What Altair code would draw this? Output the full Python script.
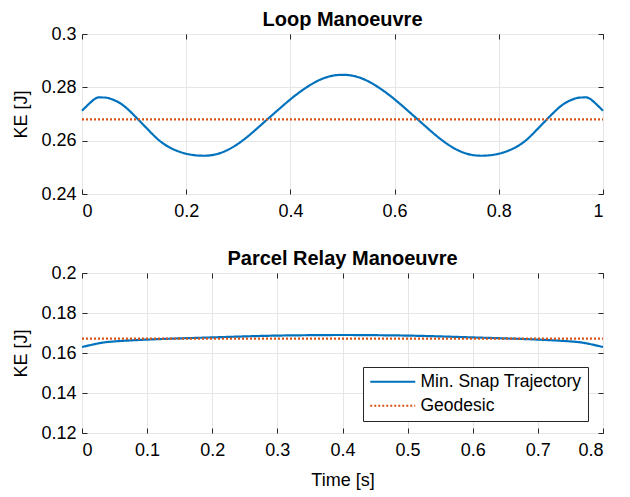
import altair as alt
import pandas as pd

# Loop manoeuvre: kinetic energy along the min-snap trajectory
loop_t = [0.0, 0.025, 0.0375, 0.05, 0.075, 0.1, 0.125, 0.15, 0.175, 0.2, 0.225,
          0.25, 0.275, 0.3, 0.325, 0.35, 0.375, 0.4, 0.425, 0.45, 0.475, 0.5,
          0.525, 0.55, 0.575, 0.6, 0.625, 0.65, 0.675, 0.7, 0.725, 0.75, 0.775,
          0.8, 0.825, 0.85, 0.875, 0.9, 0.925, 0.95, 0.9625, 0.975, 1.0]
loop_ke = [0.2712, 0.2757, 0.2762, 0.2760, 0.2738, 0.2695, 0.2645, 0.2598, 0.2568,
           0.2551, 0.2544, 0.2546, 0.2561, 0.2589, 0.2627, 0.2670, 0.2713, 0.2755,
           0.2792, 0.2822, 0.2841, 0.2847, 0.2841, 0.2822, 0.2792, 0.2755, 0.2713,
           0.2670, 0.2627, 0.2589, 0.2561, 0.2546, 0.2544, 0.2551, 0.2568, 0.2598,
           0.2645, 0.2695, 0.2738, 0.2760, 0.2762, 0.2757, 0.2712]
loop_geodesic = 0.2680

# Parcel relay manoeuvre
relay_t = [0.0, 0.025, 0.05, 0.1, 0.15, 0.2, 0.25, 0.3, 0.35, 0.4, 0.45, 0.5,
           0.55, 0.6, 0.65, 0.7, 0.75, 0.775, 0.8]
relay_ke = [0.1630, 0.1648, 0.1658, 0.1667, 0.1673, 0.1678, 0.1683, 0.1687, 0.1689,
            0.1690, 0.1689, 0.1687, 0.1683, 0.1678, 0.1673, 0.1667, 0.1658, 0.1648,
            0.1630]
relay_geodesic = 0.1672

# Axis ticks
loop_xticks = [0, 0.2, 0.4, 0.6, 0.8, 1]
loop_yticks = [0.24, 0.26, 0.28, 0.3]
relay_xticks = [0, 0.1, 0.2, 0.3, 0.4, 0.5, 0.6, 0.7, 0.8]
relay_yticks = [0.12, 0.14, 0.16, 0.18, 0.2]

SERIES = ["Min. Snap Trajectory", "Geodesic"]
COLORS = ["#0072BD", "#D95319"]
DASHES = [[1, 0], [2, 2]]
FONT = "Liberation Sans"
INK = "#262626"


def frame(t, ke, geo):
    rows = [{"t": a, "ke": b, "series": SERIES[0]} for a, b in zip(t, ke)]
    rows += [{"t": t[0], "ke": geo, "series": SERIES[1]},
             {"t": t[-1], "ke": geo, "series": SERIES[1]}]
    return pd.DataFrame(rows)


def panel(df, title, xdom, ydom, xticks, yticks, xtitle, show_legend):
    xs = alt.Scale(domain=xdom, nice=False, zero=False)
    ys = alt.Scale(domain=ydom, nice=False, zero=False)

    legend = alt.Legend(
        orient="none", legendX=281, legendY=94, title=None,
        symbolType="M-1,0H5", symbolSize=225, symbolStrokeWidth=2,
        labelFont=FONT, labelFontSize=17.5, labelColor="black", labelOffset=34,
        labelLimit=300,
        strokeColor=INK, fillColor="white", padding=6, rowPadding=5,
    )
    leg = {"legend": legend} if show_legend else {"legend": None}

    xaxis = dict(values=xticks, format="~g", orient="bottom", offset=-5,
                 tickSize=5, labelPadding=8, domain=False, grid=True,
                 title=xtitle if xtitle else None, titlePadding=12)
    yaxis = dict(values=yticks, format="~g", orient="left", offset=-5,
                 tickSize=5, labelPadding=6, domain=False, grid=True,
                 title="KE [J]", titlePadding=10)

    lines = alt.Chart(df).mark_line(strokeWidth=2.2, interpolate="natural").encode(
        x=alt.X("t:Q", scale=xs, axis=alt.Axis(**xaxis)),
        y=alt.Y("ke:Q", scale=ys, axis=alt.Axis(**yaxis)),
        color=alt.Color("series:N", scale=alt.Scale(domain=SERIES, range=COLORS), **leg),
        strokeDash=alt.StrokeDash("series:N", scale=alt.Scale(domain=SERIES, range=DASHES), **leg),
        detail="series:N",
    )

    # inward ticks on the top and right edges of the box
    ticks = alt.Chart(df).mark_line(opacity=0).encode(
        x=alt.X("t:Q", scale=xs, axis=alt.Axis(values=xticks, orient="top", offset=-5,
                                               tickSize=5, labels=False, domain=False,
                                               grid=False, title=None,
                                               minExtent=0, maxExtent=0)),
        y=alt.Y("ke:Q", scale=ys, axis=alt.Axis(values=yticks, orient="right", offset=-5,
                                                tickSize=5, labels=False, domain=False,
                                                grid=False, title=None,
                                                minExtent=0, maxExtent=0)),
    )

    return alt.layer(lines, ticks).resolve_axis(x="independent", y="independent").properties(
        width=521, height=160,
        title=alt.TitleParams(title, fontSize=20, fontWeight="bold", font=FONT,
                              color="black", offset=-5),
    )


top = panel(frame(loop_t, loop_ke, loop_geodesic), "Loop Manoeuvre",
            [0, 1], [0.24, 0.3], loop_xticks, loop_yticks, "", False)
bottom = panel(frame(relay_t, relay_ke, relay_geodesic), "Parcel Relay Manoeuvre",
               [0, 0.8], [0.12, 0.2], relay_xticks, relay_yticks, "Time [s]", True)

chart = alt.vconcat(top, bottom, spacing=79, bounds="flush").resolve_scale(
    color="independent", strokeDash="independent"
).properties(
    padding={"left": 12, "top": 9, "right": 0, "bottom": 0},
    background="white",
).configure_view(
    stroke=INK, strokeWidth=1,
).configure_axis(
    labelFont=FONT, labelFontSize=18, labelColor="black",
    titleFont=FONT, titleFontSize=18, titleFontWeight="normal", titleColor="black",
    tickColor=INK, gridColor="#e6e6e6", gridWidth=1,
)

chart.save("out.html", embed_options={"renderer": "svg", "actions": False})
